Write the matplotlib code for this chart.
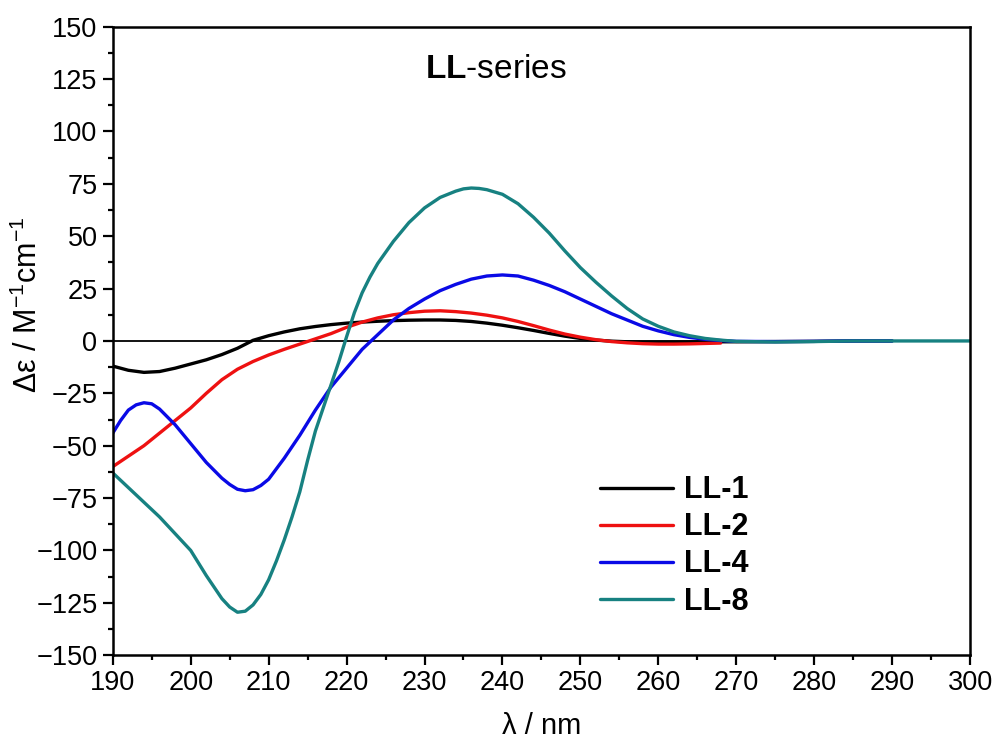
import matplotlib
matplotlib.use('Agg')
import matplotlib.pyplot as plt
from matplotlib.ticker import MultipleLocator

plt.rcParams['font.family'] = ['Liberation Sans', 'DejaVu Sans']
plt.rcParams['mathtext.fontset'] = 'custom'
plt.rcParams['mathtext.rm'] = 'Liberation Sans'
plt.rcParams['mathtext.bf'] = 'Liberation Sans:bold'
plt.rcParams['mathtext.it'] = 'Liberation Sans:italic'

# LL-1
x1 = [190, 192, 194, 196, 198, 200, 202, 204, 206, 208, 210, 212, 214, 216, 218, 220,
      222, 224, 226, 228, 230, 232, 234, 236, 238, 240, 242, 244, 246, 248, 250, 252,
      254, 256, 258, 260, 262, 264, 266, 268, 270, 275, 280, 285, 290]
y1 = [-12, -14, -15, -14.6, -13, -11, -9, -6.5, -3.5, 0.3, 2.5, 4.3, 5.8, 6.9, 7.8, 8.5,
      9, 9.4, 9.7, 9.9, 10, 10, 9.8, 9.3, 8.5, 7.5, 6.3, 5, 3.6, 2.3, 1.2, 0.4,
      -0.1, -0.4, -0.6, -0.6, -0.6, -0.5, -0.5, -0.4, -0.4, -0.3, -0.2, 0, 0]

# LL-2
x2 = [190, 192, 194, 196, 198, 200, 202, 204, 206, 208, 210, 212, 214, 216, 218, 220,
      222, 224, 226, 228, 230, 232, 234, 236, 238, 240, 242, 244, 246, 248, 250, 252,
      254, 256, 258, 260, 262, 264, 266, 268]
y2 = [-60, -55, -50, -44, -38, -32, -25, -18.5, -13.5, -9.8, -6.7, -4, -1.5, 1, 3.5, 6.5,
      9, 11, 12.5, 13.5, 14.2, 14.4, 14, 13.3, 12.3, 11, 9.3, 7.3, 5.2, 3.3, 1.8, 0.6,
      -0.3, -0.9, -1.3, -1.5, -1.5, -1.4, -1.2, -1]

# LL-4
x4 = [190, 191, 192, 193, 194, 195, 196, 198, 200, 202, 204, 205, 206, 207, 208, 209, 210,
      212, 214, 216, 218, 220, 222, 224, 226, 228, 230, 232, 234, 236, 238, 240, 242,
      244, 246, 248, 250, 252, 254, 256, 258, 260, 262, 264, 266, 268, 270, 275, 280,
      285, 290]
y4 = [-44, -38, -33, -30.5, -29.5, -30, -32.5, -40, -49, -58, -65.5, -68.5, -70.8, -71.5, -71, -69, -66,
      -56, -45, -33, -22, -13, -4, 3, 10, 15.5, 20, 24, 27, 29.5, 31, 31.5, 31,
      29, 26.5, 23.5, 20, 16.5, 13, 10, 7, 4.8, 3, 1.7, 0.8, 0.2, -0.2, -0.3, -0.2,
      0, 0]

# LL-8
x8 = [190, 192, 194, 196, 198, 200, 202, 204, 205, 206, 207, 208, 209, 210, 211, 212,
      213, 214, 215, 216, 217, 218, 219, 220, 221, 222, 223, 224, 226, 228, 230, 232,
      234, 235, 236, 237, 238, 240, 242, 244, 246, 248, 250, 252, 254, 256, 258, 260,
      262, 264, 266, 268, 270, 275, 280, 285, 290, 295, 300]
y8 = [-63, -70, -77, -84, -92, -100, -112, -123, -127, -129.5, -129, -126, -121, -114, -105, -95,
      -84, -72, -57, -43, -32, -21, -10, 2, 13.5, 23, 30.5, 37, 47.5, 56.5, 63.5, 68.5,
      71.5, 72.6, 73, 72.8, 72.2, 70, 65.5, 59, 51.5, 43, 35, 28, 21.5, 15.5, 10.5, 7,
      4.3, 2.5, 1.2, 0.4, -0.2, -0.5, -0.3, 0, 0, 0, 0]

series = [('LL-1', x1, y1, 'black'), ('LL-2', x2, y2, '#ee1111'),
          ('LL-4', x4, y4, '#0a0ae6'), ('LL-8', x8, y8, '#178181')]

fig = plt.figure(figsize=(9.98, 7.42), dpi=100)
ax = fig.add_axes([0.113, 0.117, 0.859, 0.847])

ax.axhline(0, color='black', lw=1.3, zorder=1)
for name, xs, ys, c in series:
    ax.plot(xs, ys, color=c, lw=2.4, label=name, zorder=2,
            solid_joinstyle='round', solid_capstyle='round')

ax.set_xlim(190, 300)
ax.set_ylim(-150, 150)
ax.xaxis.set_major_locator(MultipleLocator(10))
ax.xaxis.set_minor_locator(MultipleLocator(5))
ax.yaxis.set_major_locator(MultipleLocator(25))
ax.yaxis.set_minor_locator(MultipleLocator(12.5))
ax.tick_params(which='major', direction='out', length=7, width=1.6, labelsize=19.5, pad=4)
ax.tick_params(which='minor', direction='out', length=3.5, width=1.6)
for s in ax.spines.values():
    s.set_linewidth(1.8)

ax.set_xlabel('λ / nm', fontsize=21)
ax.xaxis.set_label_coords(0.5, -0.09)
ax.set_ylabel(r'Δε / M$^{-1}$cm$^{-1}$', fontsize=22)
ax.yaxis.set_label_coords(-0.08, 0.557)

ax.text(0.447, 0.932, r'$\mathbf{LL}$-series', transform=ax.transAxes,
        fontsize=24, ha='center', va='center')

leg = ax.legend(loc='upper left', bbox_to_anchor=(0.568, 0.286), frameon=False,
                prop={'weight': 'bold', 'size': 22}, handlelength=2.4,
                handletextpad=0.35, labelspacing=0.23, borderpad=0, borderaxespad=0)

fig.savefig('out.png', dpi=100)
